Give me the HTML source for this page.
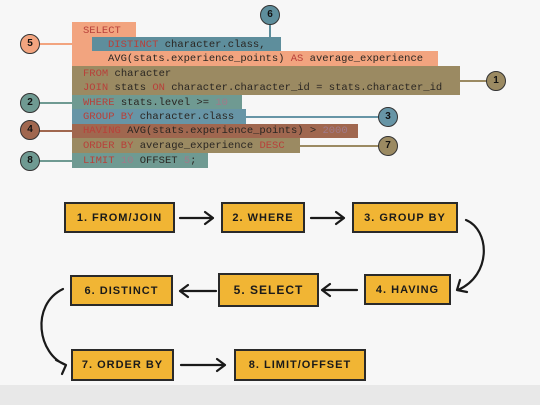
<!DOCTYPE html>
<html><head><style>
body{margin:0;width:540px;height:405px;overflow:hidden;background:#f7f7f7;position:relative;font-family:"Liberation Mono",monospace}
.b{position:absolute}
.t{position:absolute;font-size:10.5px;color:#2a2622;white-space:pre;line-height:14px}
.k{color:#b8403a}
.n{color:#a07a8a}
.c{position:absolute;width:20px;height:20px;border-radius:50%;border:1.5px solid #333;box-sizing:border-box;font:bold 10px "Liberation Sans",sans-serif;color:#111;text-align:center;line-height:17px}
.l{position:absolute;height:2px}
.box{position:absolute;background:#f1b534;border:2px solid #2a2a2a;box-sizing:border-box;font:bold 11px "Liberation Sans",sans-serif;letter-spacing:1px;color:#1a1a1a;display:flex;align-items:center;justify-content:center}
</style></head><body>
<div style="position:absolute;left:0;top:385px;width:540px;height:20px;background:#e8e8e8"></div>
<!-- code blocks -->
<div class="b" style="left:72px;top:22px;width:64px;height:16px;background:#f2a47f"></div>
<div class="b" style="left:72px;top:37px;width:20px;height:14px;background:#f2a47f"></div>
<div class="b" style="left:92px;top:37px;width:189px;height:14px;background:#5e8e9c"></div>
<div class="b" style="left:72px;top:51px;width:366px;height:15px;background:#f2a47f"></div>
<div class="b" style="left:72px;top:66px;width:388px;height:29px;background:#9b8a62"></div>
<div class="b" style="left:72px;top:95px;width:170px;height:14px;background:#6f9a92"></div>
<div class="b" style="left:72px;top:109px;width:174px;height:15px;background:#6795a6"></div>
<div class="b" style="left:72px;top:124px;width:286px;height:14px;background:#a0674f"></div>
<div class="b" style="left:72px;top:138px;width:228px;height:15px;background:#9b8a62"></div>
<div class="b" style="left:72px;top:153px;width:136px;height:15px;background:#6f9a92"></div>
<div class="t" style="left:83px;top:24px"><span class="k">SELECT</span></div>
<div class="t" style="left:108px;top:38px"><span class="k">DISTINCT</span> character.class,</div>
<div class="t" style="left:108px;top:52px">AVG(stats.experience_points) <span class="k">AS</span> average_experience</div>
<div class="t" style="left:83px;top:67px"><span class="k">FROM</span> character</div>
<div class="t" style="left:83px;top:81px"><span class="k">JOIN</span> stats <span class="k">ON</span> character.character_id = stats.character_id</div>
<div class="t" style="left:83px;top:96px"><span class="k">WHERE</span> stats.level &gt;= <span class="n">10</span></div>
<div class="t" style="left:83px;top:110px"><span class="k">GROUP BY</span> character.class</div>
<div class="t" style="left:83px;top:124px"><span class="k">HAVING</span> AVG(stats.experience_points) &gt; <span class="n">2000</span></div>
<div class="t" style="left:83px;top:139px"><span class="k">ORDER BY</span> average_experience <span class="k">DESC</span></div>
<div class="t" style="left:83px;top:154px"><span class="k">LIMIT</span> <span class="n">10</span> OFFSET <span class="n">5</span>;</div>
<!-- leader lines -->
<div class="l" style="left:38px;top:43px;width:34px;background:#f2a47f"></div>
<div class="b" style="left:269px;top:24px;width:2px;height:14px;background:#5e8e9c"></div>
<div class="l" style="left:460px;top:80px;width:28px;background:#9b8a62"></div>
<div class="l" style="left:38px;top:102px;width:34px;background:#6f9a92"></div>
<div class="l" style="left:246px;top:116px;width:134px;background:#6795a6"></div>
<div class="l" style="left:38px;top:130px;width:34px;background:#a0674f"></div>
<div class="l" style="left:300px;top:145px;width:80px;background:#9b8a62"></div>
<div class="l" style="left:38px;top:160px;width:34px;background:#6f9a92"></div>
<!-- circles -->
<div class="c" style="left:20px;top:34px;background:#f2a47f">5</div>
<div class="c" style="left:260px;top:5px;background:#5e8e9c">6</div>
<div class="c" style="left:486px;top:71px;background:#9b8a62">1</div>
<div class="c" style="left:20px;top:93px;background:#6f9a92">2</div>
<div class="c" style="left:378px;top:107px;background:#6795a6">3</div>
<div class="c" style="left:20px;top:120px;background:#a0674f">4</div>
<div class="c" style="left:378px;top:136px;background:#9b8a62">7</div>
<div class="c" style="left:20px;top:151px;background:#6f9a92">8</div>
<!-- flow boxes -->
<div class="box" style="left:64px;top:202px;width:111px;height:31px">1. FROM/JOIN</div>
<div class="box" style="left:221px;top:202px;width:84px;height:31px">2. WHERE</div>
<div class="box" style="left:352px;top:202px;width:106px;height:31px">3. GROUP BY</div>
<div class="box" style="left:364px;top:274px;width:87px;height:31px">4. HAVING</div>
<div class="box" style="left:218px;top:273px;width:101px;height:34px;font-size:12px">5. SELECT</div>
<div class="box" style="left:70px;top:275px;width:103px;height:31px">6. DISTINCT</div>
<div class="box" style="left:71px;top:349px;width:103px;height:32px">7. ORDER BY</div>
<div class="box" style="left:234px;top:349px;width:132px;height:32px">8. LIMIT/OFFSET</div>
<svg width="540" height="405" style="position:absolute;left:0;top:0" fill="none" stroke="#1a1a1a" stroke-width="2.2" stroke-linecap="round" stroke-linejoin="round">
<path d="M180 218H213M205 212l8 6-8 6"/>
<path d="M311 218H344M336 212l8 6-8 6"/>
<path d="M466 220C490 230 492 275 458 290M460 280l-3 10 10 2"/>
<path d="M357 290H322M330 284l-8 6 8 6"/>
<path d="M216 291H180M188 285l-8 6 8 6"/>
<path d="M63 289C30 305 38 355 66 365M56 360l10 5-4 9"/>
<path d="M181 365H225M217 359l8 6-8 6"/>
</svg>
</body></html>
